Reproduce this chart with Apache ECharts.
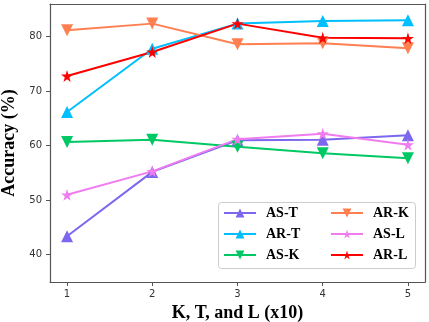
<!DOCTYPE html>
<html><head><meta charset="utf-8">
<script src="https://cdn.jsdelivr.net/npm/echarts@6/dist/echarts.min.js"></script>
<style>html,body{margin:0;padding:0;background:#fff}#c{width:429px;height:322px}</style>
</head><body><div id="c"></div>
<script>
const xValues = [1, 2, 3, 4, 5];
const asT = [43.4, 55.2, 61.0, 61.1, 61.9];
const arT = [66.2, 77.8, 82.4, 82.9, 83.0];
const asK = [60.7, 61.1, 59.8, 58.6, 57.7];
const arK = [81.2, 82.4, 78.6, 78.8, 77.9];
const asL = [51.0, 55.3, 61.2, 62.2, 60.2];
const arL = [72.8, 77.2, 82.4, 79.8, 79.7];
const yTicks = [40, 50, 60, 70, 80];

const STAR = 'path://M50,0 L61,35 L98,35 L68,57 L79,91 L50,70 L21,91 L32,57 L2,35 L39,35 Z';
const UP = 'path://M50,0 L100,90 L0,90 Z';
const DOWN = 'path://M0,0 L100,0 L50,90 Z';

function mk(name, data, color, symbol, size) {
  return {
    name, type: 'line', data: data.map((v, i) => [xValues[i], v]),
    symbol, symbolSize: size, showSymbol: true,
    lineStyle: { color, width: 2 }, itemStyle: { color },
    emphasis: { disabled: true }, animation: false, z: 3
  };
}
const serif = '"Liberation Serif", "Times New Roman", serif';
const legendText = { fontFamily: serif, fontWeight: 'bold', fontSize: 14, color: '#000', padding: [0, 0, 0, 5] };

const chart = echarts.init(document.getElementById('c'));
chart.setOption({
  animation: false,
  grid: { left: 50, right: 4, top: 4, bottom: 40, containLabel: false, outerBoundsMode: 'none' },
  xAxis: [{
    type: 'value', min: 0.8, max: 5.2,
    name: 'K, T, and L (x10)', nameLocation: 'middle', nameGap: 20,
    nameTextStyle: { fontFamily: serif, fontWeight: 'bold', fontSize: 18, color: '#000' },
    axisLine: { lineStyle: { color: '#555', width: 1.2 } },
    axisTick: { show: true, customValues: xValues, length: 4, lineStyle: { color: '#555' } },
    axisLabel: { customValues: xValues, fontSize: 10, color: '#333', fontFamily: 'DejaVu Sans', margin: 7 },
    splitLine: { show: false }
  }, {
    type: 'value', min: 0.8, max: 5.2, position: 'top',
    axisLine: { show: true, onZero: false, lineStyle: { color: '#555', width: 1.2 } },
    axisTick: { show: false }, axisLabel: { show: false }, splitLine: { show: false }
  }],
  yAxis: [{
    type: 'value', min: 35, max: 86,
    name: 'Accuracy (%)', nameLocation: 'middle', nameGap: 26,
    nameTextStyle: { fontFamily: serif, fontWeight: 'bold', fontSize: 18, color: '#000' },
    axisLine: { show: true, lineStyle: { color: '#555', width: 1.2 } },
    axisTick: { show: true, customValues: yTicks, length: 4, lineStyle: { color: '#555' } },
    axisLabel: { customValues: yTicks, fontSize: 10, color: '#333', fontFamily: 'DejaVu Sans', margin: 8 },
    splitLine: { show: false }
  }, {
    type: 'value', min: 35, max: 86, position: 'right',
    axisLine: { show: true, onZero: false, lineStyle: { color: '#555', width: 1.2 } },
    axisTick: { show: false }, axisLabel: { show: false }, splitLine: { show: false }
  }],
  graphic: [{
    type: 'rect', left: 218, top: 202, z: 10,
    shape: { width: 197, height: 66, r: 3 },
    style: { fill: '#fff', stroke: '#ccc', lineWidth: 1 }
  }],
  legend: [{
    data: ['AS-T', 'AR-T', 'AS-K'], orient: 'vertical', left: 223, top: 206, padding: 0,
    itemWidth: 32, itemHeight: 11, itemGap: 7, textStyle: legendText, z: 20
  }, {
    data: ['AR-K', 'AS-L', 'AR-L'], orient: 'vertical', left: 330, top: 206, padding: 0,
    itemWidth: 32, itemHeight: 11, itemGap: 7, textStyle: legendText, z: 20
  }],
  series: [
    mk('AS-T', asT, '#7B68EE', UP, 12),
    mk('AR-T', arT, '#00BFFF', UP, 12),
    mk('AS-K', asK, '#00C864', DOWN, 12),
    mk('AR-K', arK, '#FF7F50', DOWN, 12),
    mk('AS-L', asL, '#F07CF0', STAR, 12),
    mk('AR-L', arL, '#FF0000', STAR, 12)
  ]
});
</script></body></html>
